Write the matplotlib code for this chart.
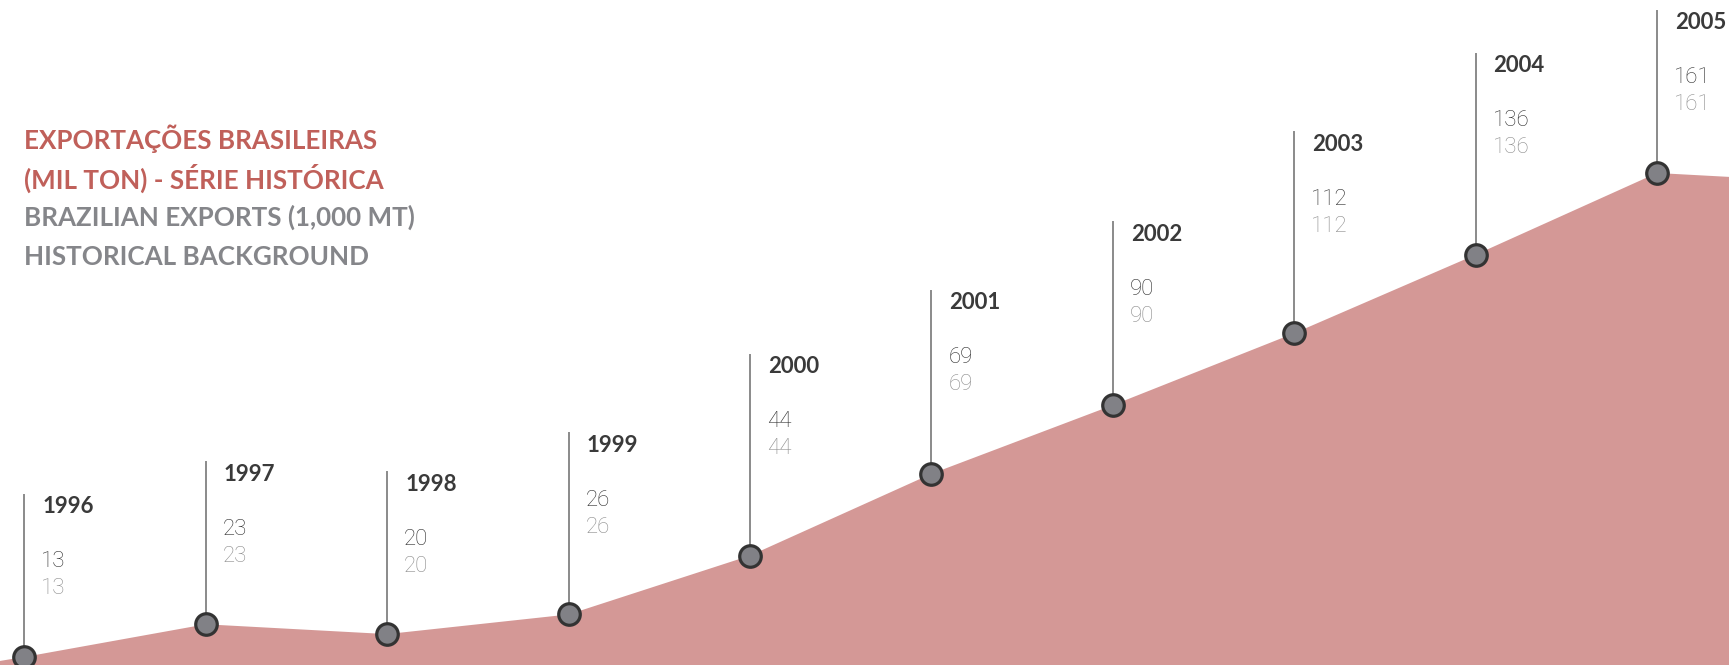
import matplotlib.pyplot as plt

plt.rcParams['font.family'] = ['Lato', 'DejaVu Sans']

# data (mil ton)
years = [1996, 1997, 1998, 1999, 2000, 2001, 2002, 2003, 2004, 2005]
exports = [13, 23, 20, 26, 44, 69, 90, 112, 136, 161]
# the filled area runs a little past both ends of the picture
edge_years = [1995, 2006]
edge_values = [4, 158]

title_pt = ['EXPORTAÇÕES BRASILEIRAS', '(MIL TON) - SÉRIE HISTÓRICA']
title_en = ['BRAZILIAN EXPORTS (1,000 MT)', 'HISTORICAL BACKGROUND']

# layout: stem length above each marker, in pixels
stem_px = [162, 162, 162, 181, 201, 183, 183, 201, 201, 162]

W, H = 1729, 665
fig = plt.figure(figsize=(W / 100, H / 100), dpi=100)
ax = fig.add_axes([0, 0, 1, 1])
ax.set_xlim(1995.866, 2005.397)
ax.set_ylim(10.55, 213.9)
ax.axis('off')

px_per_unit = H / (213.9 - 10.55)

area_x = [edge_years[0]] + years + [edge_years[1]]
area_y = [edge_values[0]] + exports + [edge_values[1]]
ax.fill_between(area_x, area_y, 0, color='#d49896', lw=0, zorder=1)

val_font = dict(family=['Roboto', 'DejaVu Sans'], fontweight='light', fontsize=16)
for yr, v, s in zip(years, exports, stem_px):
    top = v + s / px_per_unit
    ax.plot([yr, yr], [v, top], color='#8a8a8a', lw=1.4, zorder=2)
    ax.annotate(str(yr), (yr, top), xytext=(18, -12), textcoords='offset pixels',
                ha='left', va='center', fontsize=16, fontweight='bold', color='#3a3a3a')
    ax.annotate(str(v), (yr, top), xytext=(17, -67), textcoords='offset pixels',
                ha='left', va='center', color='#2e2e2e', **val_font)
    ax.annotate(str(v), (yr, top), xytext=(17, -94), textcoords='offset pixels',
                ha='left', va='center', color='#8c8c8c', **val_font)

ax.plot(years, exports, ls='none', marker='o', markersize=15.5, markerfacecolor='#818186',
        markeredgecolor='#333333', markeredgewidth=2.3, zorder=3, clip_on=False)

for i, line in enumerate(title_pt + title_en):
    color = '#c0605a' if i < 2 else '#85868a'
    fig.text(24 / W, 1 - (139 + 39.3 * i) / H, line, ha='left', va='center',
             fontsize=18.7, fontweight='bold', color=color)

fig.savefig('out.png', dpi=100)
